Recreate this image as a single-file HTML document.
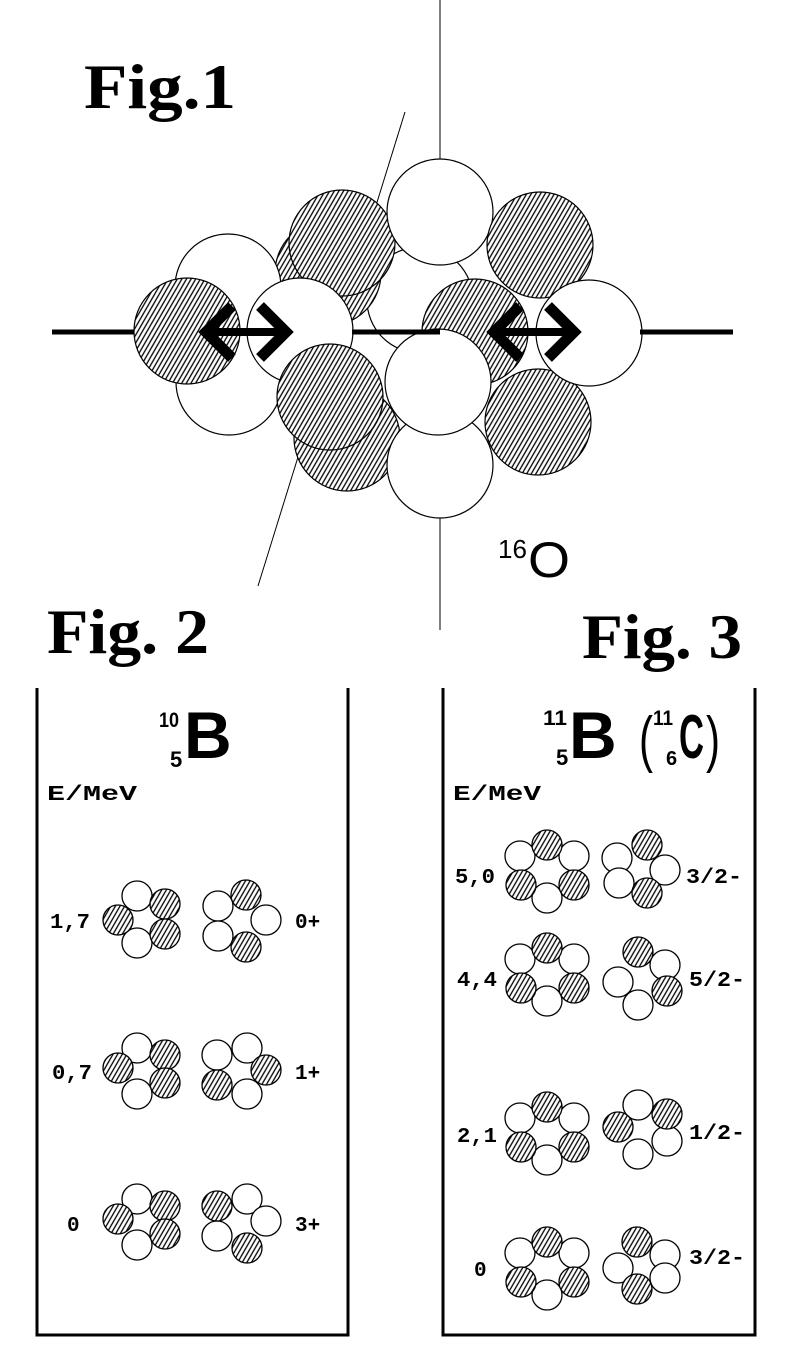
<!DOCTYPE html>
<html><head><meta charset="utf-8"><style>
html,body{margin:0;padding:0;background:#fff;}
svg{display:block;}
.fig{font-family:"Liberation Serif",serif;font-weight:bold;}
.m{font-family:"Liberation Mono",monospace;font-weight:bold;font-size:21px;}
.s{font-family:"Liberation Sans",sans-serif;}
</style></head><body>
<svg width="789" height="1365" viewBox="0 0 789 1365" xmlns="http://www.w3.org/2000/svg">
<defs>
<pattern id="h" width="4" height="4" patternUnits="userSpaceOnUse" patternTransform="rotate(30)">
<rect width="4" height="4" fill="#fff"/><line x1="1" y1="0" x2="1" y2="4" stroke="#000" stroke-width="1.3"/></pattern>
<pattern id="hs" width="4" height="4" patternUnits="userSpaceOnUse" patternTransform="rotate(30)">
<rect width="4" height="4" fill="#fff"/><line x1="1" y1="0" x2="1" y2="4" stroke="#000" stroke-width="1.3"/></pattern>
</defs>
<rect width="789" height="1365" fill="#fff"/>
<text class="fig" x="84" y="108" font-size="64" textLength="152" lengthAdjust="spacingAndGlyphs">Fig.1</text>
<line x1="440" y1="0" x2="440" y2="630" stroke="#000" stroke-width="1"/>
<line x1="405" y1="112" x2="258" y2="586" stroke="#000" stroke-width="1"/>
<line x1="52" y1="332" x2="733" y2="332" stroke="#000" stroke-width="5"/>
<g stroke="#000" stroke-width="1.2">
<circle cx="420" cy="300" r="53" fill="#fff"/>
<circle cx="328" cy="273" r="53" fill="url(#h)"/>
<circle cx="342" cy="243" r="53" fill="url(#h)"/>
<circle cx="440" cy="212" r="53" fill="#fff"/>
<circle cx="540" cy="245" r="53" fill="url(#h)"/>
<circle cx="228" cy="287" r="53" fill="#fff"/>
<circle cx="347" cy="438" r="53" fill="url(#h)"/>
<circle cx="440" cy="465" r="53" fill="#fff"/>
<circle cx="538" cy="422" r="53" fill="url(#h)"/>
<circle cx="589" cy="333" r="53" fill="#fff"/>
<circle cx="475" cy="332" r="53" fill="url(#h)"/>
<circle cx="438" cy="382" r="53" fill="#fff"/>
<circle cx="229" cy="382" r="53" fill="#fff"/>
<circle cx="187" cy="331" r="53" fill="url(#h)"/>
<circle cx="300" cy="331" r="53" fill="#fff"/>
<circle cx="330" cy="397" r="53" fill="url(#h)"/>
</g>
<line x1="352" y1="332" x2="440" y2="332" stroke="#000" stroke-width="5"/>
<line x1="640" y1="332" x2="733" y2="332" stroke="#000" stroke-width="5"/>
<g stroke="#000" fill="none" stroke-linecap="butt" stroke-linejoin="miter">
<line x1="205" y1="332" x2="287" y2="332" stroke-width="8"/>
<polyline points="232,306 206,332 232,358" stroke-width="11"/>
<polyline points="260,306 286,332 260,358" stroke-width="11"/>
<line x1="493" y1="332" x2="575" y2="332" stroke-width="8"/>
<polyline points="520,306 494,332 520,358" stroke-width="11"/>
<polyline points="548,306 574,332 548,358" stroke-width="11"/>
</g>
<text class="s" x="498" y="558" font-size="26">16</text>
<text class="s" x="528" y="577" font-size="50" textLength="42" lengthAdjust="spacingAndGlyphs">O</text>

<text class="fig" x="47" y="653" font-size="64" textLength="162" lengthAdjust="spacingAndGlyphs">Fig. 2</text>
<text class="fig" x="582" y="658" font-size="64" textLength="160" lengthAdjust="spacingAndGlyphs">Fig. 3</text>

<polyline points="37,688 37,1335 348,1335 348,688" fill="none" stroke="#000" stroke-width="3"/>
<polyline points="443,688 443,1335 755,1335 755,688" fill="none" stroke="#000" stroke-width="3"/>

<!-- Fig 2 -->
<text class="s" x="159" y="727" font-size="21" font-weight="bold" textLength="20" lengthAdjust="spacingAndGlyphs">10</text>
<text class="s" x="170" y="767" font-size="22" font-weight="bold">5</text>
<text class="s" x="184" y="758" font-size="66" font-weight="bold">B</text>
<text class="m" x="47" y="800" textLength="90" lengthAdjust="spacingAndGlyphs">E/MeV</text>
<text class="m" x="50" y="928" textLength="40" lengthAdjust="spacingAndGlyphs">1,7</text>
<text class="m" x="52" y="1079" textLength="40" lengthAdjust="spacingAndGlyphs">0,7</text>
<text class="m" x="67" y="1231">0</text>
<text class="m" x="295" y="928">0+</text>
<text class="m" x="295" y="1079">1+</text>
<text class="m" x="295" y="1231">3+</text>
<g stroke="#000" stroke-width="1.3">
<circle cx="137" cy="896" r="15" fill="#fff"/><circle cx="137" cy="943" r="15" fill="#fff"/>
<circle cx="118" cy="920" r="15" fill="url(#hs)"/><circle cx="165" cy="904" r="15" fill="url(#hs)"/><circle cx="165" cy="934" r="15" fill="url(#hs)"/>
<circle cx="218" cy="906" r="15" fill="#fff"/><circle cx="266" cy="920" r="15" fill="#fff"/><circle cx="218" cy="936" r="15" fill="#fff"/>
<circle cx="246" cy="895" r="15" fill="url(#hs)"/><circle cx="246" cy="947" r="15" fill="url(#hs)"/>

<circle cx="137" cy="1048" r="15" fill="#fff"/><circle cx="137" cy="1094" r="15" fill="#fff"/>
<circle cx="118" cy="1068" r="15" fill="url(#hs)"/><circle cx="165" cy="1055" r="15" fill="url(#hs)"/><circle cx="165" cy="1083" r="15" fill="url(#hs)"/>
<circle cx="217" cy="1055" r="15" fill="#fff"/><circle cx="247" cy="1048" r="15" fill="#fff"/><circle cx="247" cy="1094" r="15" fill="#fff"/>
<circle cx="266" cy="1070" r="15" fill="url(#hs)"/><circle cx="217" cy="1085" r="15" fill="url(#hs)"/>

<circle cx="137" cy="1199" r="15" fill="#fff"/><circle cx="137" cy="1245" r="15" fill="#fff"/>
<circle cx="118" cy="1219" r="15" fill="url(#hs)"/><circle cx="165" cy="1206" r="15" fill="url(#hs)"/><circle cx="165" cy="1234" r="15" fill="url(#hs)"/>
<circle cx="247" cy="1199" r="15" fill="#fff"/><circle cx="266" cy="1221" r="15" fill="#fff"/><circle cx="217" cy="1236" r="15" fill="#fff"/>
<circle cx="217" cy="1206" r="15" fill="url(#hs)"/><circle cx="247" cy="1248" r="15" fill="url(#hs)"/>
</g>

<!-- Fig 3 -->
<text class="s" x="543" y="725" font-size="21" font-weight="bold" textLength="24" lengthAdjust="spacingAndGlyphs">11</text>
<text class="s" x="556" y="765" font-size="22" font-weight="bold">5</text>
<text class="s" x="569" y="758" font-size="66" font-weight="bold">B</text>
<text class="s" x="639" y="760" font-size="62" textLength="14" lengthAdjust="spacingAndGlyphs">(</text>
<text class="s" x="653" y="725" font-size="21" font-weight="bold" textLength="20" lengthAdjust="spacingAndGlyphs">11</text>
<text class="s" x="666" y="765" font-size="20" font-weight="bold">6</text>
<text class="s" x="679" y="758" font-size="62" font-weight="bold" textLength="25" lengthAdjust="spacingAndGlyphs">C</text>
<text class="s" x="706" y="760" font-size="62" textLength="14" lengthAdjust="spacingAndGlyphs">)</text>
<text class="m" x="453" y="800" textLength="88" lengthAdjust="spacingAndGlyphs">E/MeV</text>
<text class="m" x="455" y="883" textLength="40" lengthAdjust="spacingAndGlyphs">5,0</text>
<text class="m" x="457" y="986" textLength="40" lengthAdjust="spacingAndGlyphs">4,4</text>
<text class="m" x="457" y="1142" textLength="40" lengthAdjust="spacingAndGlyphs">2,1</text>
<text class="m" x="474" y="1276">0</text>
<text class="m" x="686" y="883" textLength="56" lengthAdjust="spacingAndGlyphs">3/2-</text>
<text class="m" x="689" y="986" textLength="56" lengthAdjust="spacingAndGlyphs">5/2-</text>
<text class="m" x="689" y="1139" textLength="56" lengthAdjust="spacingAndGlyphs">1/2-</text>
<text class="m" x="689" y="1264" textLength="56" lengthAdjust="spacingAndGlyphs">3/2-</text>
<g stroke="#000" stroke-width="1.3">
<g transform="translate(0,-2)">
<circle cx="520" cy="858" r="15" fill="#fff"/><circle cx="574" cy="858" r="15" fill="#fff"/><circle cx="547" cy="900" r="15" fill="#fff"/>
<circle cx="547" cy="847" r="15" fill="url(#hs)"/><circle cx="521" cy="887" r="15" fill="url(#hs)"/><circle cx="574" cy="887" r="15" fill="url(#hs)"/>
</g>
<g transform="translate(0,101)">
<circle cx="520" cy="858" r="15" fill="#fff"/><circle cx="574" cy="858" r="15" fill="#fff"/><circle cx="547" cy="900" r="15" fill="#fff"/>
<circle cx="547" cy="847" r="15" fill="url(#hs)"/><circle cx="521" cy="887" r="15" fill="url(#hs)"/><circle cx="574" cy="887" r="15" fill="url(#hs)"/>
</g>
<g transform="translate(0,260)">
<circle cx="520" cy="858" r="15" fill="#fff"/><circle cx="574" cy="858" r="15" fill="#fff"/><circle cx="547" cy="900" r="15" fill="#fff"/>
<circle cx="547" cy="847" r="15" fill="url(#hs)"/><circle cx="521" cy="887" r="15" fill="url(#hs)"/><circle cx="574" cy="887" r="15" fill="url(#hs)"/>
</g>
<g transform="translate(0,395)">
<circle cx="520" cy="858" r="15" fill="#fff"/><circle cx="574" cy="858" r="15" fill="#fff"/><circle cx="547" cy="900" r="15" fill="#fff"/>
<circle cx="547" cy="847" r="15" fill="url(#hs)"/><circle cx="521" cy="887" r="15" fill="url(#hs)"/><circle cx="574" cy="887" r="15" fill="url(#hs)"/>
</g>
<circle cx="617" cy="858" r="15" fill="#fff"/><circle cx="665" cy="870" r="15" fill="#fff"/><circle cx="619" cy="883" r="15" fill="#fff"/>
<circle cx="647" cy="845" r="15" fill="url(#hs)"/><circle cx="647" cy="893" r="15" fill="url(#hs)"/>

<circle cx="665" cy="965" r="15" fill="#fff"/><circle cx="618" cy="982" r="15" fill="#fff"/><circle cx="638" cy="1005" r="15" fill="#fff"/>
<circle cx="638" cy="952" r="15" fill="url(#hs)"/><circle cx="667" cy="991" r="15" fill="url(#hs)"/>

<circle cx="638" cy="1105" r="15" fill="#fff"/><circle cx="667" cy="1141" r="15" fill="#fff"/><circle cx="638" cy="1154" r="15" fill="#fff"/>
<circle cx="667" cy="1114" r="15" fill="url(#hs)"/><circle cx="618" cy="1127" r="15" fill="url(#hs)"/>

<circle cx="665" cy="1255" r="15" fill="#fff"/><circle cx="618" cy="1268" r="15" fill="#fff"/><circle cx="665" cy="1278" r="15" fill="#fff"/>
<circle cx="637" cy="1242" r="15" fill="url(#hs)"/><circle cx="637" cy="1289" r="15" fill="url(#hs)"/>
</g>
</svg>
</body></html>
